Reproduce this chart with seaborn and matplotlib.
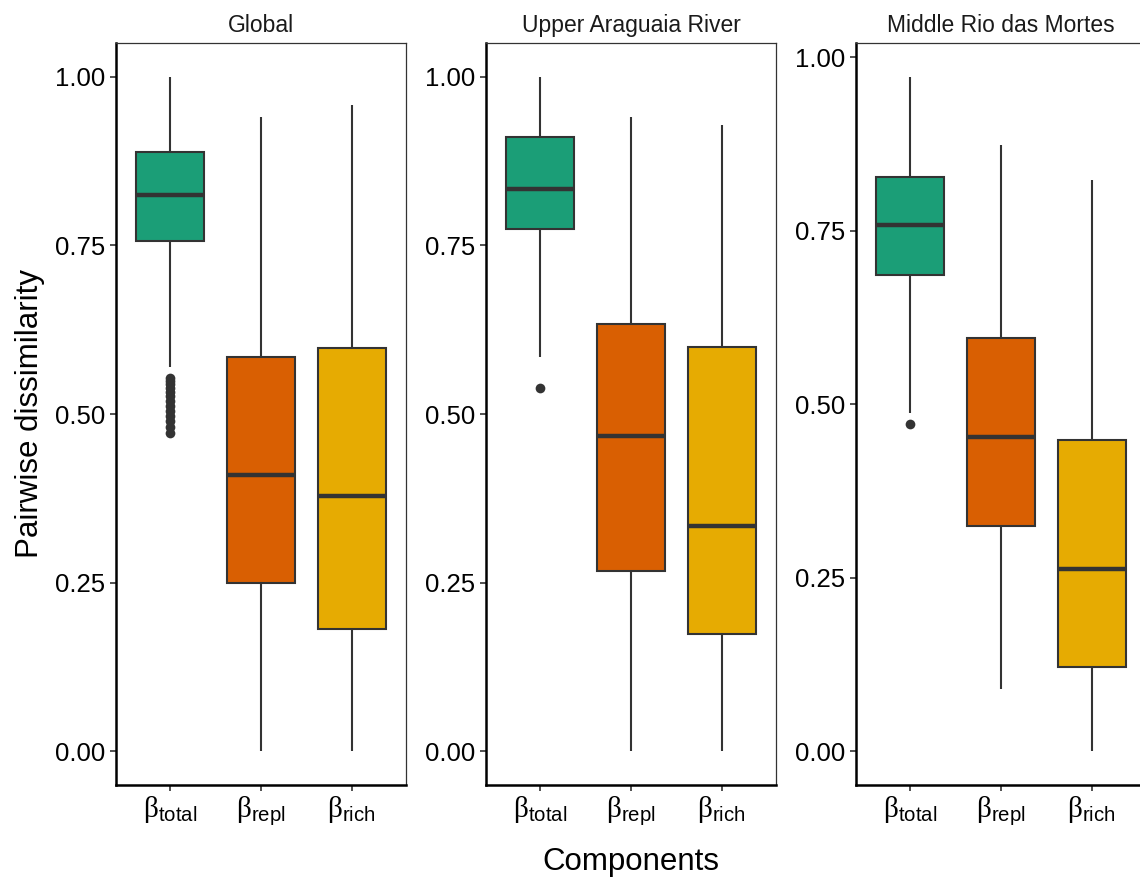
import pandas as pd
import matplotlib
matplotlib.use('Agg')
import matplotlib.pyplot as plt
import seaborn as sns

sns.set_style('white')
plt.rcParams['font.family'] = ['Liberation Sans', 'DejaVu Sans']
plt.rcParams['text.color'] = 'black'
plt.rcParams['axes.labelcolor'] = 'black'
plt.rcParams['mathtext.fontset'] = 'custom'
plt.rcParams['mathtext.rm'] = 'Liberation Serif'
plt.rcParams['mathtext.sf'] = 'Liberation Sans'

# components and colours
components = ['total', 'repl', 'rich']
tick_labels = [r'$\mathrm{\beta}_{\mathsf{total}}$',
               r'$\mathrm{\beta}_{\mathsf{repl}}$',
               r'$\mathrm{\beta}_{\mathsf{rich}}$']
colors = ['#1B9E77', '#D95F02', '#E6AB02']
panels = ['Global', 'Upper Araguaia River', 'Middle Rio das Mortes']

# five-number summaries: lower whisker, Q1, median, Q3, upper whisker
global_total = [0.570, 0.757, 0.825, 0.889, 1.000]
global_repl = [0.000, 0.250, 0.410, 0.585, 0.940]
global_rich = [0.000, 0.182, 0.379, 0.598, 0.958]
global_out = [0.554, 0.549, 0.544, 0.539, 0.533, 0.527, 0.520, 0.512,
              0.505, 0.497, 0.490, 0.480, 0.472]

upper_total = [0.584, 0.775, 0.833, 0.910, 1.000]
upper_repl = [0.000, 0.267, 0.467, 0.633, 0.940]
upper_rich = [0.000, 0.174, 0.334, 0.600, 0.929]
upper_out = [0.538]

middle_total = [0.487, 0.686, 0.759, 0.828, 0.972]
middle_repl = [0.090, 0.324, 0.453, 0.595, 0.874]
middle_rich = [0.000, 0.122, 0.263, 0.448, 0.823]
middle_out = [0.471]

panel_stats = [
    (global_total, global_repl, global_rich, global_out),
    (upper_total, upper_repl, upper_rich, upper_out),
    (middle_total, middle_repl, middle_rich, middle_out),
]

W, H = 1140, 881
fig = plt.figure(figsize=(W / 100, H / 100), dpi=100)
lefts = [116, 486, 856]
pw, top, bottom = 290, 43, 785

for i, (name, stats) in enumerate(zip(panels, panel_stats)):
    ax = fig.add_axes([lefts[i] / W, (H - bottom) / H, pw / W, (bottom - top) / H])
    box_df = pd.DataFrame({
        'component': [c for c, s in zip(components, stats[:3]) for _ in s],
        'value': [v for s in stats[:3] for v in s],
    })
    out_df = pd.DataFrame({'component': 'total', 'value': stats[3]})

    sns.boxplot(data=box_df, x='component', y='value', hue='component',
                order=components, hue_order=components, palette=colors,
                saturation=1, legend=False, dodge=False, whis=(0, 100), width=0.75,
                showcaps=False, linecolor='#333333', linewidth=1.5,
                medianprops=dict(color='#333333', linewidth=3.2),
                showfliers=False, ax=ax)
    sns.stripplot(data=out_df, x='component', y='value', order=components,
                  jitter=False, color='#333333', size=7, ax=ax)

    ymax = max(max(s) for s in stats[:3])
    pad = ymax * 0.05
    ax.set_ylim(-pad, ymax + pad)
    ax.set_xlim(-0.6, 2.6)
    ax.set_yticks([0, 0.25, 0.5, 0.75, 1.0])
    ax.set_yticklabels(['0.00', '0.25', '0.50', '0.75', '1.00'])
    ax.set_xticks([0, 1, 2])
    ax.set_xticklabels(tick_labels)
    ax.tick_params(axis='both', length=4.5, width=1.2, color='#333333',
                   labelsize=18.5, labelcolor='black', pad=3, left=True, bottom=True)
    ax.tick_params(axis='x', labelsize=21, pad=2)
    ax.set_xlabel('')
    ax.set_ylabel('')
    ax.set_title(name, fontsize=16.5, pad=8, color='#1a1a1a')
    for side in ['left', 'bottom']:
        ax.spines[side].set_color('black')
        ax.spines[side].set_linewidth(1.8)
    for side in ['top', 'right']:
        ax.spines[side].set_color('#333333')
        ax.spines[side].set_linewidth(0.9)

fig.text(30 / W, 1 - 414 / H, 'Pairwise dissimilarity', rotation=90,
         ha='center', va='center', fontsize=22.5, color='black')
fig.text(631 / W, 1 - 862 / H, 'Components', ha='center', va='center',
         fontsize=22.5, color='black')

fig.savefig('out.png', dpi=100)
